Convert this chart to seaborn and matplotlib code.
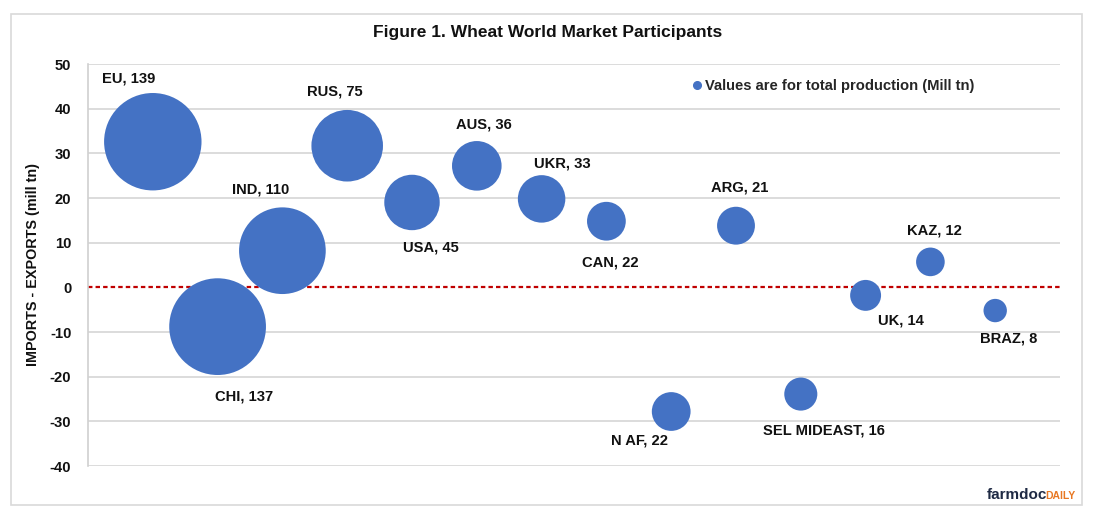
import matplotlib
matplotlib.use("Agg")
import matplotlib.pyplot as plt
import seaborn as sns
import pandas as pd
from matplotlib.lines import Line2D
from matplotlib.patches import Rectangle

# ---- data ----
countries = ["EU", "CHI", "IND", "RUS", "USA", "AUS", "UKR", "CAN",
             "N AF", "ARG", "SEL MIDEAST", "UK", "KAZ", "BRAZ"]
net_trade = [32.6, -8.8, 8.2, 31.7, 19.0, 27.2, 19.8, 14.8,
             -27.8, 13.8, -23.9, -1.8, 5.7, -5.2]
production = [139, 137, 110, 75, 45, 36, 33, 22, 22, 21, 16, 14, 12, 8]
position = list(range(1, 15))
y_ticks = list(range(-40, 51, 10))

# label offsets (pixels) relative to bubble centre
label_offsets = {
    "EU": (-24, 63), "CHI": (26, -70), "IND": (-22, 61), "RUS": (-12, 54),
    "USA": (19, -45), "AUS": (7, 41), "UKR": (21, 35), "CAN": (4, -41),
    "N AF": (-32, -29), "ARG": (4, 38), "SEL MIDEAST": (23, -36),
    "UK": (35, -25), "KAZ": (4, 31), "BRAZ": (13, -28),
}

df = pd.DataFrame({"country": countries, "pos": position,
                   "net": net_trade, "prod": production})

sns.set_theme(style="white")
plt.rcParams["font.family"] = ["Liberation Sans", "DejaVu Sans"]

W, H = 1095, 512
fig = plt.figure(figsize=(W / 100, H / 100), dpi=100)
fig.patch.set_facecolor("white")
ax = fig.add_axes([88 / W, 1 - 466 / H, (1060 - 88) / W, (466 - 64) / H])

blue = "#4472C4"
txt = "#111111"

# gridlines
for t in y_ticks:
    if t != 0:
        ax.axhline(t, color="#D9D9D9", lw=1.3, zorder=0)
ax.axhline(0, color="#C00000", lw=1.6, dashes=(2, 1.4), zorder=1)

k = 35.4
sns.scatterplot(data=df, x="pos", y="net", size="prod",
                sizes=(k * min(production), k * max(production)),
                size_norm=(min(production), max(production)),
                color=blue, edgecolor="none", linewidth=0, alpha=1,
                legend=False, ax=ax, zorder=3)

for c, x, y, p in zip(countries, position, net_trade, production):
    dx, dy = label_offsets[c]
    ax.annotate(f"{c}, {p}", (x, y), xytext=(dx, dy), textcoords="offset pixels",
                ha="center", va="center", fontsize=10.6, fontweight="bold",
                color=txt, zorder=5)

ax.set_xlim(0, 15)
ax.set_ylim(-40, 50)
ax.set_yticks(y_ticks)
ax.set_yticklabels([str(t) for t in y_ticks], fontsize=10.6, fontweight="bold",
                   color=txt)
ax.set_xticks([])
ax.set_xlabel("")
ax.set_ylabel("")
ax.tick_params(axis="y", length=0, pad=12)
for s in ["top", "right", "bottom"]:
    ax.spines[s].set_visible(False)
ax.spines["left"].set_color("#D0D0D0")
ax.spines["left"].set_linewidth(1.2)

handle = Line2D([0], [0], marker="o", ls="none", color=blue, markersize=5.5)
ax.legend(handles=[handle], labels=["Values are for total production (Mill tn)"],
          loc="center left", bbox_to_anchor=((691 - 88) / 972, (466 - 86) / 402),
          frameon=False, handletextpad=0.15, borderpad=0, borderaxespad=0,
          handlelength=0.8, prop=dict(weight="bold", size=10.6))

fig.text(548 / W, 1 - 33 / H, "Figure 1. Wheat World Market Participants",
         ha="center", va="center", fontsize=12.5, fontweight="bold", color=txt)
fig.text(33 / W, 1 - 265 / H, "IMPORTS - EXPORTS (mill tn)", rotation=90,
         ha="center", va="center", fontsize=10.4, fontweight="bold", color=txt)

fig.text(1047 / W, 1 - 499 / H, "farmdoc", ha="right", va="baseline",
         fontsize=11, fontweight="bold", color="#1F2A44")
fig.text(1076 / W, 1 - 499 / H, "DAILY", ha="right", va="baseline",
         fontsize=7.5, fontweight="bold", color="#E87722")

fig.add_artist(Rectangle((11 / W, 1 - 505 / H), (1082 - 11) / W, (505 - 14) / H,
                         transform=fig.transFigure, fill=False,
                         edgecolor="#D9D9D9", lw=1.2))

fig.savefig("out.png", dpi=100, facecolor="white")
